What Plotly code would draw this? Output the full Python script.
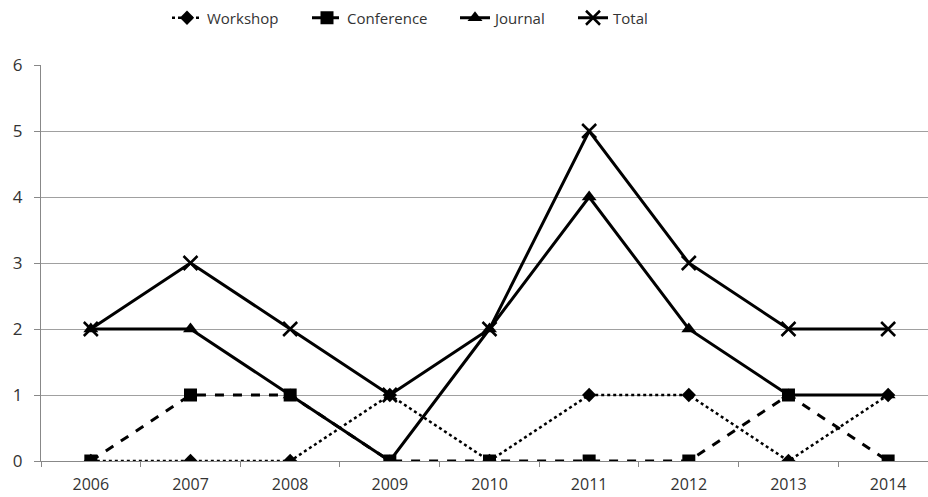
import plotly.graph_objects as go

years = ["2006", "2007", "2008", "2009", "2010", "2011", "2012", "2013", "2014"]
workshop = [0, 0, 0, 1, 0, 1, 1, 0, 1]
conference = [0, 1, 1, 0, 0, 0, 0, 1, 0]
journal = [2, 2, 1, 0, 2, 4, 2, 1, 1]
total = [2, 3, 2, 1, 2, 5, 3, 2, 2]

font = "Open Sans"
W, H = 928, 497
fig = go.Figure()
fig.add_trace(go.Scatter(x=years, y=workshop, name="Workshop", mode="lines+markers",
                         line=dict(color="black", width=2.5, dash="dot"),
                         marker=dict(symbol="diamond", size=11, color="black"),
                         legend="legend"))
fig.add_trace(go.Scatter(x=years, y=conference, name="Conference", mode="lines+markers",
                         line=dict(color="black", width=3, dash="dash"),
                         marker=dict(symbol="square", size=13, color="black"),
                         legend="legend2"))
fig.add_trace(go.Scatter(x=years, y=journal, name="Journal", mode="lines+markers",
                         line=dict(color="black", width=3),
                         marker=dict(symbol="triangle-up", size=13, color="black"),
                         legend="legend3"))
fig.add_trace(go.Scatter(x=years, y=total, name="Total", mode="lines+markers",
                         line=dict(color="black", width=3),
                         marker=dict(symbol="x-thin", size=14, color="black",
                                     line=dict(color="black", width=2.5)),
                         legend="legend4"))

def leg(px):
    return dict(orientation="h", x=px / W, xanchor="left", xref="container",
                y=1 - 18 / H, yanchor="middle", yref="container",
                font=dict(size=15, color="#333"), bgcolor="rgba(0,0,0,0)")

fig.update_layout(
    width=W, height=H,
    margin=dict(l=41, r=0, t=65, b=36, autoexpand=False),
    paper_bgcolor="white", plot_bgcolor="white",
    font=dict(family=font, size=16, color="#333"),
    showlegend=True,
    legend=leg(167), legend2=leg(307), legend3=leg(455), legend4=leg(573),
    xaxis=dict(type="category", range=[-0.5, 8.4], tickson="boundaries",
               ticks="outside", ticklen=5, tickcolor="#888",
               showline=True, linecolor="#888", linewidth=1,
               showgrid=False, zeroline=False, automargin=False,
               ticklabelstandoff=9, tickfont=dict(size=16)),
    yaxis=dict(range=[0, 6], dtick=1, ticks="outside", ticklen=6, tickcolor="#888",
               showline=True, linecolor="#888", linewidth=1,
               showgrid=True, gridcolor="#a0a0a0", gridwidth=1, zeroline=False,
               automargin=False, ticklabelstandoff=8, tickfont=dict(size=17)),
)
fig.write_html("out.html", config={"displayModeBar": False},
               post_script="document.body.style.margin='0';document.body.style.overflow='hidden';")
